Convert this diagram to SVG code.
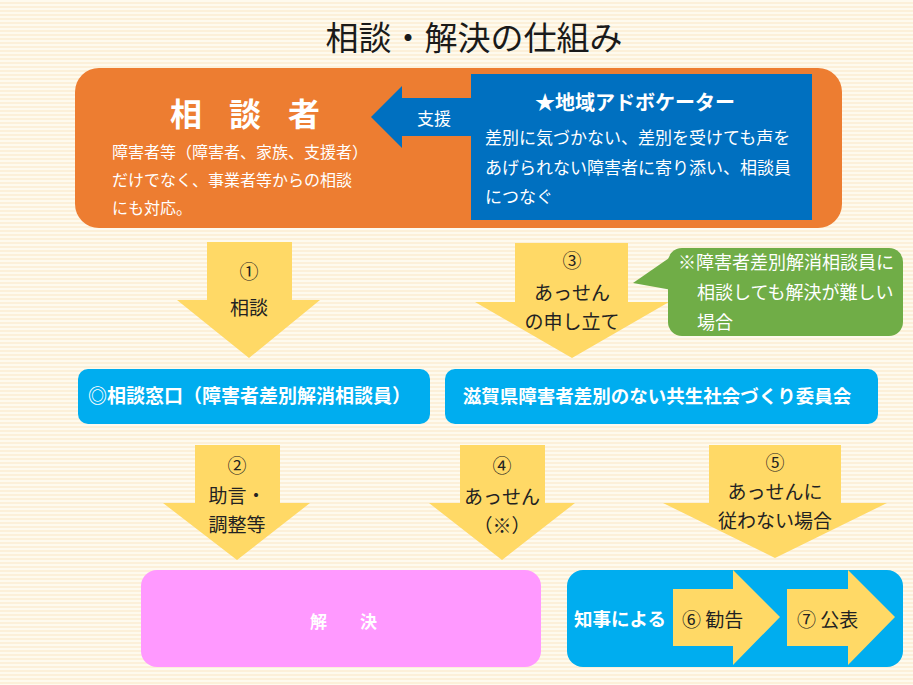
<svg xmlns="http://www.w3.org/2000/svg" width="913" height="685" viewBox="0 0 913 685">
<defs>
<pattern id="stripes" width="8" height="4" patternUnits="userSpaceOnUse">
<rect width="8" height="4" fill="#fefaee"/>
<rect y="2" width="8" height="2" fill="#fcf0d9"/>
</pattern>
</defs>
<style>
text{font-family:"Noto Sans CJK JP","Noto Sans CJK SC",sans-serif;}
.title{font-size:33px;fill:#1a1a1a;text-anchor:middle;}
.w{fill:#ffffff;}
.b{font-weight:bold;}
.dk{fill:#222222;font-size:19px;text-anchor:middle;}
.yel{fill:#ffd966;}
.cyan{fill:#00adef;}
.blue{fill:#0070c0;}
</style>
<rect width="913" height="685" fill="url(#stripes)"/>
<text class="title" x="474" y="50">相談・解決の仕組み</text>

<g id="node-soudansha">
<rect x="75" y="68" width="767" height="160" rx="24" fill="#ed7d31"/>
<text class="w b" x="170" y="126" font-size="32" letter-spacing="27">相談者</text>
<text class="w" x="112" y="158" font-size="16">障害者等（障害者、家族、支援者）</text>
<text class="w" x="112" y="186" font-size="16">だけでなく、事業者等からの相談</text>
<text class="w" x="112" y="214" font-size="16">にも対応。</text>
</g>

<g id="node-advocate">
<rect class="blue" x="471" y="74" width="341" height="146"/>
<text class="w b" x="635" y="110" font-size="20" text-anchor="middle">★地域アドボケーター</text>
<text class="w" x="485" y="144" font-size="17">差別に気づかない、差別を受けても声を</text>
<text class="w" x="485" y="174" font-size="17">あげられない障害者に寄り添い、相談員</text>
<text class="w" x="485" y="203" font-size="17">につなぐ</text>
</g>

<g id="node-madoguchi">
<rect class="cyan" x="78" y="369" width="352" height="55" rx="10"/>
<text class="w b" x="88" y="403" font-size="19">◎相談窓口（障害者差別解消相談員）</text>
</g>

<g id="node-iinkai">
<rect class="cyan" x="445" y="369" width="433" height="55" rx="10"/>
<text class="w b" x="657" y="403" font-size="18.5" text-anchor="middle">滋賀県障害者差別のない共生社会づくり委員会</text>
</g>

<g id="node-kaiketsu">
<rect x="141" y="570" width="400" height="97" rx="16" fill="#ff99ff"/>
<text class="w b" x="310" y="628" font-size="17" letter-spacing="8">解　決</text>
</g>

<g id="node-chiji">
<rect class="cyan" x="567" y="570" width="336" height="97" rx="16"/>
<text class="w b" x="574" y="626" font-size="18.5">知事による</text>
<polygon class="yel" points="673,589 733,589 733,570 780,617 733,665 733,646 673,646"/>
<text x="682" y="627" font-size="19" fill="#222222">⑥ 勧告</text>
<polygon class="yel" points="787,589 848,589 848,570 895,617 848,665 848,646 787,646"/>
<text x="797" y="627" font-size="19" fill="#222222">⑦ 公表</text>
</g>

<g id="connectors">
<g id="arrow-shien">
<polygon class="blue" points="371,117 402,86 402,98 471,98 471,136 402,136 402,148"/>
<text class="w" x="417" y="125" font-size="17">支援</text>
</g>
<g id="arrow-1">
<polygon class="yel" points="207,242 292,242 292,300 320,300 249,358 177,300 207,300"/>
<text class="dk" x="249" y="279">①</text>
<text class="dk" x="249" y="315">相談</text>
</g>
<g id="arrow-3">
<polygon class="yel" points="515,243 628,243 628,302 669,302 572,358 475,302 515,302"/>
<text class="dk" x="572" y="268">③</text>
<text class="dk" x="572" y="300">あっせん</text>
<text class="dk" x="572" y="329">の申し立て</text>
</g>
<g id="arrow-2">
<polygon class="yel" points="195,445 280,445 280,503 310,503 237,560 163,503 195,503"/>
<text class="dk" x="237" y="473">②</text>
<text class="dk" x="237" y="503">助言・</text>
<text class="dk" x="237" y="532">調整等</text>
</g>
<g id="arrow-4">
<polygon class="yel" points="460,445 545,445 545,503 575,503 502,560 429,503 460,503"/>
<text class="dk" x="502" y="473">④</text>
<text class="dk" x="502" y="504">あっせん</text>
<text class="dk" x="502" y="533">（※）</text>
</g>
<g id="arrow-5">
<polygon class="yel" points="709,445 841,445 841,503 887,503 775,558 663,503 709,503"/>
<text class="dk" x="775" y="470">⑤</text>
<text class="dk" x="775" y="499">あっせんに</text>
<text class="dk" x="775" y="528">従わない場合</text>
</g>
</g>

<g id="node-note">
<rect x="668" y="248" width="235" height="88" rx="14" fill="#70ad47"/>
<polygon points="672,256 633,283 672,290" fill="#70ad47"/>
<text class="w" x="678" y="269" font-size="18">※障害者差別解消相談員に</text>
<text class="w" x="697" y="299" font-size="18">相談しても解決が難しい</text>
<text class="w" x="697" y="329" font-size="18">場合</text>
</g>
</svg>
